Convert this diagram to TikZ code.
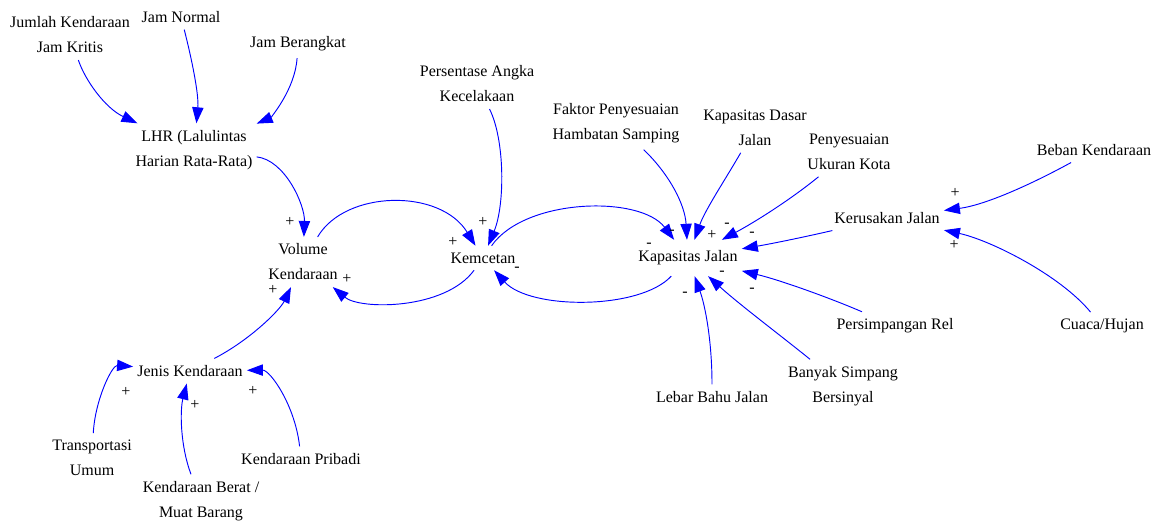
\documentclass[tikz,border=0pt]{standalone}
\usepackage{fontspec}
\setmainfont{Liberation Serif}
\usetikzlibrary{arrows.meta}
\begin{document}
\begin{tikzpicture}[x=0.75pt,y=-0.75pt,
  var/.style={align=center, font=\fontsize{12}{18.75}\selectfont, inner xsep=3pt, inner ysep=5pt, text=black},
  link/.style={draw=blue, line width=0.7pt, -{Triangle[length=12pt,width=8.5pt]}},
  pol/.style={font=\fontsize{12}{14}\selectfont, inner sep=0pt, text=black}]
\useasboundingbox (0,0) rectangle (1159,523);

% variables
\node[var] (jkc) at (70,35)  {Jumlah Kendaraan\\Jam Kritis};
\node[var] (jn)  at (181,17) {Jam Normal};
\node[var] (jb)  at (298,44) {Jam Berangkat};
\node[var] (lhr) at (194,150) {LHR (Lalulintas\\Harian Rata-Rata)};
\node[var] (vol) at (303,262) {Volume\\Kendaraan};
\node[var] (kem) at (483,258) {Kemcetan};
\node[var] (pak) at (477,84) {Persentase Angka\\Kecelakaan};
\node[var, inner ysep=8pt] (kap) at (688,258) {Kapasitas Jalan};
\node[var] (fph) at (616,123) {Faktor Penyesuaian\\Hambatan Samping};
\node[var] (kdj) at (755,128) {Kapasitas Dasar\\Jalan};
\node[var] (puk) at (849,152) {Penyesuaian\\Ukuran Kota};
\node[var] (kj)  at (887,218) {Kerusakan Jalan};
\node[var] (bk)  at (1094,150) {Beban Kendaraan};
\node[var] (ch)  at (1102,326) {Cuaca/Hujan};
\node[var] (pr)  at (895,326) {Persimpangan Rel};
\node[var] (bsb) at (843,386) {Banyak Simpang\\Bersinyal};
\node[var] (lbj) at (712,397) {Lebar Bahu Jalan};
\node[var] (jk)  at (190,371) {Jenis Kendaraan};
\node[var] (tu)  at (92,458) {Transportasi\\Umum};
\node[var] (kbm) at (201,501) {Kendaraan Berat /\\Muat Barang};
\node[var] (kp)  at (301,459) {Kendaraan Pribadi};

% causal links
\draw[link] (jkc) .. controls (85,80) and (105,108) .. (lhr);
\draw[link] (jn) .. controls (192,60) and (199,95) .. (lhr);
\draw[link] (jb) .. controls (295,90) and (270,118) .. (lhr);
\draw[link] (lhr) .. controls (285,160) and (305,205) .. (vol);
\draw[link] (vol) .. controls (345,190) and (440,188) .. (kem);
\draw[link] (kem) .. controls (445,310) and (360,310) .. (vol);
\draw[link] (pak) .. controls (505,140) and (505,205) .. (kem);
\draw[link] (kem) .. controls (525,198) and (640,195) .. (kap);
\draw[link] (kap) .. controls (640,310) and (530,310) .. (kem);
\draw[link] (fph) .. controls (670,175) and (685,205) .. (kap);
\draw[link] (kdj) .. controls (725,180) and (705,210) .. (kap);
\draw[link] (puk) .. controls (790,200) and (755,222) .. (kap);
\draw[link] (kj) .. controls (800,238) and (770,244) .. (kap);
\draw[link] (pr) .. controls (830,298) and (780,280) .. (kap);
\draw[link] (bsb) .. controls (780,335) and (740,305) .. (kap);
\draw[link] (lbj) .. controls (712,340) and (705,305) .. (kap);
\draw[link] (bk) .. controls (1030,185) and (985,205) .. (kj);
\draw[link] (ch) .. controls (1060,275) and (990,240) .. (kj);
\draw[link] (jk) .. controls (250,340) and (280,310) .. (vol);
\draw[link] (tu) .. controls (95,400) and (112,365) .. (jk);
\draw[link] (kbm) .. controls (180,445) and (180,410) .. (jk);
\draw[link] (kp) .. controls (295,405) and (270,370) .. (jk);

% link polarities
\node[pol] (s1)  at (290,222) {+};
\node[pol] (s2)  at (453,242) {+};
\node[pol] (s3)  at (483,222) {+};
\node[pol] (s4)  at (347,279) {+};
\node[pol] (s5)  at (517,269) {-};
\node[pol] (s6)  at (273,290) {+};
\node[pol] (s7)  at (672,232) {-};
\node[pol] (s8)  at (649,245) {-};
\node[pol] (s9)  at (712,235) {+};
\node[pol] (s10) at (727,225) {-};
\node[pol] (s11) at (752,234) {-};
\node[pol] (s12) at (722,273) {-};
\node[pol] (s13) at (685,294) {-};
\node[pol] (s14) at (752,290) {-};
\node[pol] (s15) at (955,193) {+};
\node[pol] (s16) at (954,245) {+};
\node[pol] (s17) at (126,392) {+};
\node[pol] (s18) at (195,405) {+};
\node[pol] (s19) at (253,391) {+};
\end{tikzpicture}
\end{document}
